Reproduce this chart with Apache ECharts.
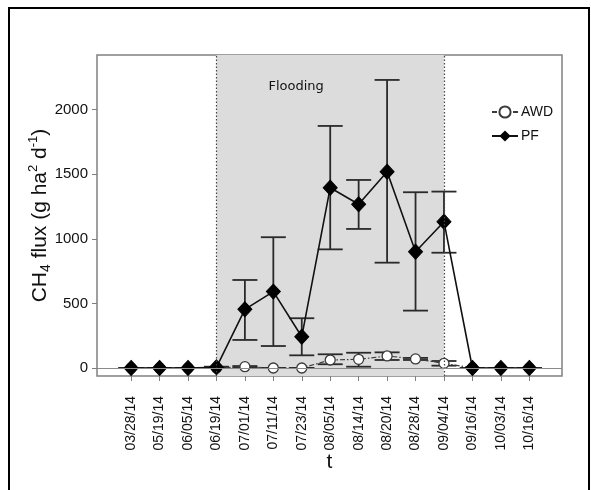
<!DOCTYPE html>
<html>
<head>
<meta charset="utf-8">
<script src="https://cdn.jsdelivr.net/npm/echarts@6/dist/echarts.min.js"></script>
<style>html,body{margin:0;padding:0;background:#fff;}#c{width:591px;height:490px;}</style>
</head>
<body>
<div id="c"></div>
<script>
const categories = ['03/28/14','05/19/14','06/05/14','06/19/14','07/01/14','07/11/14','07/23/14','08/05/14','08/14/14','08/20/14','08/28/14','09/04/14','09/16/14','10/03/14','10/16/14'];
const pfMean = [0, 0, 0, 5, 454, 591, 242, 1395, 1267, 1519, 900, 1132, 0, 0, 0];
const pfLow  = [0, 0, 0, 0, 217, 170, 98, 918, 1076, 815, 444, 892, 0, 0, 0];
const pfHigh = [0, 0, 0, 10, 681, 1012, 385, 1873, 1455, 2229, 1360, 1365, 0, 0, 0];
const awdMean = [0, 0, 0, 0, 10, 0, 0, 62, 67, 93, 70, 36, 0, 0, 0];
const awdLow  = [0, 0, 0, 0, 2, 0, 0, 29, 10, 62, 62, 18, 0, 0, 0];
const awdHigh = [0, 0, 0, 0, 15, 0, 0, 106, 118, 121, 78, 54, 0, 0, 0];
const yTicks = [0, 500, 1000, 1500, 2000];
const floodStart = 3, floodEnd = 11;
const floodLabel = 'Flooding';

const idx = categories.map((c, i) => i);
const FONT = '"Liberation Sans", Arial, sans-serif';

function errItem(params, api) {
  const x = api.value(0), lo = api.value(1), hi = api.value(2);
  const pLo = api.coord([x, lo]), pHi = api.coord([x, hi]);
  const hw = 12.5;
  const st = {stroke: '#2a2a2a', lineWidth: 1.8, fill: 'none'};
  return {type: 'group', children: [
    {type: 'line', shape: {x1: pLo[0], y1: pLo[1], x2: pHi[0], y2: pHi[1]}, style: st},
    {type: 'line', shape: {x1: pLo[0]-hw, y1: pLo[1], x2: pLo[0]+hw, y2: pLo[1]}, style: st},
    {type: 'line', shape: {x1: pHi[0]-hw, y1: pHi[1], x2: pHi[0]+hw, y2: pHi[1]}, style: st}
  ]};
}

const chart = echarts.init(document.getElementById('c'), null, {renderer: 'canvas'});
chart.setOption({
  animation: false,
  backgroundColor: '#fff',
  graphic: [{type: 'rect', shape: {x: 9, y: 8, width: 580, height: 500}, style: {fill: 'none', stroke: '#000', lineWidth: 2}, z: 100}],
  grid: {left: 97, right: 29, top: 55, bottom: 114, show: true, borderColor: '#808080', borderWidth: 1.5, backgroundColor: 'transparent'},
  legend: {
    left: 486, top: 100, orient: 'vertical', itemGap: 10, itemWidth: 26, itemHeight: 14,
    textStyle: {fontFamily: FONT, fontSize: 14, color: '#111', padding: [0,0,0,-2]},
    data: ['AWD', 'PF']
  },
  xAxis: {
    type: 'value', min: -1.2, max: 15.15,
    name: 't', nameLocation: 'middle', nameGap: 76, nameMoveOverlap: false,
    nameTextStyle: {fontFamily: FONT, fontSize: 21, color: '#111'},
    axisLine: {show: false, onZero: false},
    axisTick: {show: true, customValues: idx, length: 5, lineStyle: {color: '#808080', width: 1}},
    axisLabel: {customValues: idx, rotate: 90, margin: 20, fontFamily: FONT, fontSize: 14, color: '#111',
      formatter: v => categories[Math.round(v)] || ''},
    splitLine: {show: false}
  },
  yAxis: {
    type: 'value', min: -62, max: 2422,
    name: '{m|CH}{s|4}{m| flux (g ha}{p|2}{m| d}{p|-1}{m|)}',
    nameLocation: 'middle', nameRotate: 90, nameGap: 44, nameMoveOverlap: false,
    nameTextStyle: {
      rich: {
        m: {fontFamily: FONT, fontSize: 21, color: '#111', lineHeight: 26, verticalAlign: 'middle'},
        s: {fontFamily: FONT, fontSize: 14, color: '#111', lineHeight: 14, verticalAlign: 'bottom'},
        p: {fontFamily: FONT, fontSize: 13, color: '#111', lineHeight: 13, verticalAlign: 'top'}
      }
    },
    axisLine: {show: false, onZero: false},
    axisTick: {show: true, customValues: yTicks, length: 5, lineStyle: {color: '#808080', width: 1}},
    axisLabel: {customValues: yTicks, margin: 9, fontFamily: FONT, fontSize: 15, color: '#111',
      formatter: v => String(v)},
    splitLine: {show: false}
  },
  series: [
    {
      type: 'line', name: '_bg', data: [], silent: true, z: 0,
      markArea: {silent: true, itemStyle: {color: '#dcdcdc'},
        label: {show: true, position: [52, 25], fontFamily: '"DejaVu Sans", sans-serif', fontSize: 13, color: '#111'},
        data: [[{xAxis: floodStart, name: floodLabel}, {xAxis: floodEnd}]]},
      markLine: {silent: true, symbol: 'none', label: {show: false},
        data: [
          {xAxis: floodStart, lineStyle: {color: '#444', type: [1.5, 2], width: 1.2}},
          {xAxis: floodEnd, lineStyle: {color: '#444', type: [1.5, 2], width: 1.2}},
          {yAxis: 0, lineStyle: {color: '#8a8a8a', type: 'solid', width: 1.2}}
        ]}
    },
    {
      type: 'custom', name: 'AWD err', renderItem: errItem, z: 2,
      data: idx.map(i => [i, awdLow[i], awdHigh[i]]), encode: {x: 0, y: [1, 2]}
    },
    {
      type: 'custom', name: 'PF err', renderItem: errItem, z: 2,
      data: idx.map(i => [i, pfLow[i], pfHigh[i]]), encode: {x: 0, y: [1, 2]}
    },
    {
      type: 'line', name: 'AWD', z: 3,
      data: idx.map(i => [i, awdMean[i]]),
      symbol: 'circle', symbolSize: 10,
      lineStyle: {color: '#3a3a3a', width: 1.2, type: [5, 2, 1.5, 2]},
      itemStyle: {color: '#fff', borderColor: '#3a3a3a', borderWidth: 1.3}
    },
    {
      type: 'line', name: 'PF', z: 4,
      data: idx.map(i => [i, pfMean[i]]),
      symbol: 'diamond', symbolSize: [14, 15],
      lineStyle: {color: '#111', width: 1.6},
      itemStyle: {color: '#000', borderColor: '#000'}
    }
  ]
});
</script>
</body>
</html>
